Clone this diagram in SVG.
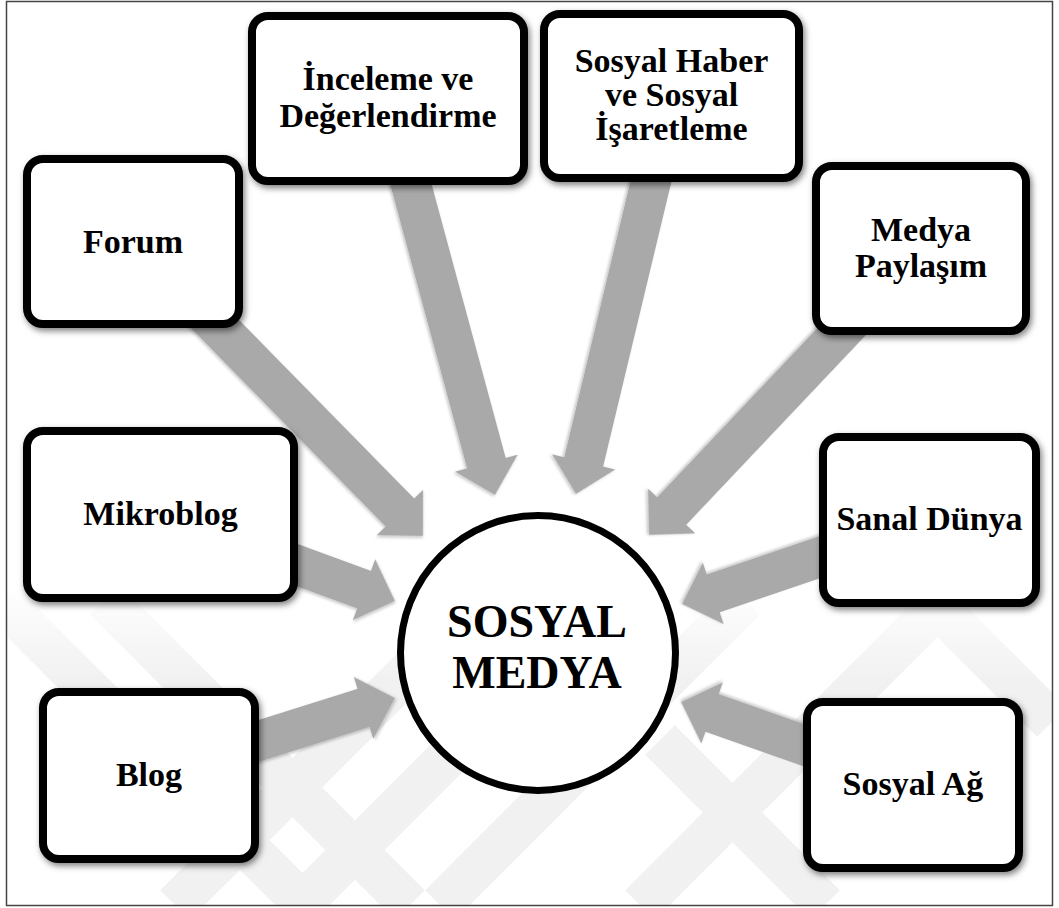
<svg xmlns="http://www.w3.org/2000/svg" width="1059" height="908" viewBox="0 0 1059 908">
<defs>
<style>
.box{fill:#fff;stroke:#000;stroke-width:8;filter:url(#sh)}
.lbl{font-family:"Liberation Serif","Times New Roman",serif;font-weight:bold;font-size:34px;fill:#000;text-anchor:middle}
.arr{fill:#a9a9a9;filter:url(#ash)}
.wm{stroke:#f1f1f1;stroke-width:42;fill:none}
</style>
<filter id="sh" x="-10%" y="-10%" width="125%" height="130%">
<feDropShadow dx="2" dy="3" stdDeviation="3" flood-color="#000" flood-opacity="0.5"/>
</filter>
<filter id="ash" x="-10%" y="-20%" width="120%" height="140%">
<feDropShadow dx="1" dy="1.5" stdDeviation="1.5" flood-color="#000" flood-opacity="0.25"/>
</filter>
<linearGradient id="fade" x1="0" y1="0" x2="0" y2="1" gradientUnits="objectBoundingBox">
<stop offset="0" stop-color="#fff" stop-opacity="0"/>
<stop offset="0.3" stop-color="#fff" stop-opacity="1"/>
<stop offset="1" stop-color="#fff" stop-opacity="1"/>
</linearGradient>
<mask id="wmask" maskUnits="userSpaceOnUse" x="0" y="0" width="1059" height="908">
<rect x="7" y="585" width="1045" height="320" fill="url(#fade)"/>
</mask>
</defs>
<rect x="0" y="0" width="1059" height="908" fill="#fff"/>
<g id="watermark" mask="url(#wmask)">
<line class="wm" x1="0" y1="600" x2="305" y2="905"/>
<line class="wm" x1="105" y1="600" x2="410" y2="905"/>
<line class="wm" x1="175" y1="905" x2="480" y2="600"/>
<line class="wm" x1="300" y1="905" x2="605" y2="600"/>
<line class="wm" x1="440" y1="905" x2="745" y2="600"/>
<line class="wm" x1="640" y1="905" x2="945" y2="600"/>
<line class="wm" x1="660" y1="740" x2="825" y2="905"/>
<line class="wm" x1="930" y1="600" x2="1052" y2="722"/>
</g>
<rect x="6.5" y="1.5" width="1046" height="904" fill="none" stroke="#444" stroke-width="1.5"/>
<g id="connectors">
<path class="arr" transform="translate(423,536) rotate(45.54)" d="M-413,-20 H-33 V-32.5 L0,0 L-33,32.5 V20 H-413 Z"/>
<path class="arr" transform="translate(495,495) rotate(74.86)" d="M-410,-20 H-33 V-32.5 L0,0 L-33,32.5 V20 H-410 Z"/>
<path class="arr" transform="translate(576,494) rotate(103.48)" d="M-409,-20 H-33 V-32.5 L0,0 L-33,32.5 V20 H-409 Z"/>
<path class="arr" transform="translate(649,535) rotate(133.44)" d="M-395,-20 H-33 V-32.5 L0,0 L-33,32.5 V20 H-395 Z"/>
<path class="arr" transform="translate(395,601) rotate(20.15)" d="M-250,-20 H-33 V-32.5 L0,0 L-33,32.5 V20 H-250 Z"/>
<path class="arr" transform="translate(395,698) rotate(-17.48)" d="M-258,-20 H-33 V-32.5 L0,0 L-33,32.5 V20 H-258 Z"/>
<path class="arr" transform="translate(682,604) rotate(161.23)" d="M-261,-20 H-33 V-32.5 L0,0 L-33,32.5 V20 H-261 Z"/>
<path class="arr" transform="translate(681,702) rotate(-160.61)" d="M-246,-20 H-33 V-32.5 L0,0 L-33,32.5 V20 H-246 Z"/>
</g>
<g id="node-forum">
<rect class="box" x="27" y="159" width="212" height="165" rx="16"/>
<text class="lbl" x="133" y="253">Forum</text>
</g>
<g id="node-inceleme">
<rect class="box" x="252" y="16" width="272" height="165" rx="16"/>
<text class="lbl" x="388" y="90">İnceleme ve</text>
<text class="lbl" x="388" y="127">Değerlendirme</text>
</g>
<g id="node-sosyal-haber">
<rect class="box" x="544" y="14" width="255" height="164" rx="16"/>
<text class="lbl" x="671.5" y="72">Sosyal Haber</text>
<text class="lbl" x="671.5" y="106">ve Sosyal</text>
<text class="lbl" x="671.5" y="140">İşaretleme</text>
</g>
<g id="node-medya">
<rect class="box" x="816" y="166" width="210" height="165" rx="16"/>
<text class="lbl" x="921" y="241">Medya</text>
<text class="lbl" x="921" y="277">Paylaşım</text>
</g>
<g id="node-mikroblog">
<rect class="box" x="27" y="431" width="267" height="167" rx="16"/>
<text class="lbl" x="160.5" y="525">Mikroblog</text>
</g>
<g id="node-blog">
<rect class="box" x="43" y="692" width="212" height="167" rx="16"/>
<text class="lbl" x="149" y="786">Blog</text>
</g>
<g id="node-sanal">
<rect class="box" x="823" y="437" width="213" height="166" rx="16"/>
<text class="lbl" x="929.5" y="530">Sanal Dünya</text>
</g>
<g id="node-sosyal-ag">
<rect class="box" x="807" y="702" width="212" height="166" rx="16"/>
<text class="lbl" x="913" y="795">Sosyal Ağ</text>
</g>
<g id="node-center">
<circle cx="538" cy="653" r="137.5" fill="#fff" stroke="#000" stroke-width="7"/>
<text class="lbl" x="537" y="637" style="font-size:46px">SOSYAL</text>
<text class="lbl" x="537" y="688" style="font-size:46px">MEDYA</text>
</g>
</svg>
